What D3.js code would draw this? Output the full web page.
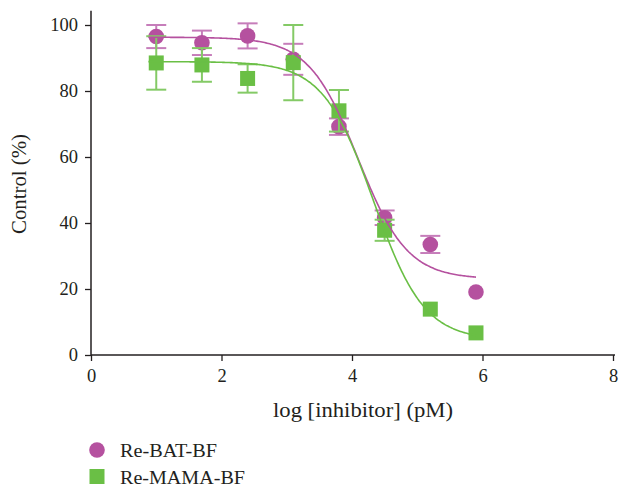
<!DOCTYPE html>
<html>
<head>
<meta charset="utf-8">
<script src="https://cdn.jsdelivr.net/npm/d3@7"></script>
<style>
  html, body { margin: 0; padding: 0; background: #fff; }
  svg { display: block; }
  text { font-family: "Liberation Serif", "Times New Roman", serif; fill: #231f20; }
</style>
</head>
<body>
<svg id="chart" width="619" height="487"></svg>
<script>
// ---- data ----
const logConc = [1.0, 1.7, 2.4, 3.1, 3.8, 4.5, 5.2, 5.9];
const batMean = [96.5, 94.6, 96.7, 89.6, 69.2, 41.6, 33.5, 19.1];
const batErr  = [3.5, 3.7, 3.8, 4.7, 2.5, 2.2, 2.6, 0];
const mamaMean = [88.5, 87.9, 83.8, 88.6, 74.0, 37.8, 13.9, 6.7];
const mamaErr  = [8.1, 5.1, 4.3, 11.4, 6.3, 3.2, 0, 0];
// four-parameter logistic fits: [top, bottom, logIC50, hill]
const batFit  = [96.3, 23.0, 4.09, 1.15];
const mamaFit = [88.9, 4.5, 4.33, 1.12];
const fitRange = [0.88, 5.9];
const xTicks = [0, 2, 4, 6, 8];
const yTicks = [0, 20, 40, 60, 80, 100];
const seriesNames = ["Re-BAT-BF", "Re-MAMA-BF"];

const purple = "#b5519f", purpleLight = "#c67dba";
const green = "#6abf45", greenLight = "#84ca66";

const svg = d3.select("#chart");
const x = d3.scaleLinear().domain([0, 8]).range([91, 613]);
const y = d3.scaleLinear().domain([0, 100]).range([355, 25]);

// axes
const axisColor = "#231f20";
const gx = svg.append("g").attr("transform", `translate(0,${y(0)})`)
  .call(d3.axisBottom(x).tickValues(xTicks).tickSize(6).tickPadding(8).tickFormat(d3.format("d")));
const gy = svg.append("g").attr("transform", `translate(${x(0)},0)`)
  .call(d3.axisLeft(y).tickValues(yTicks).tickSize(6).tickPadding(7).tickFormat(d3.format("d")));
[gx, gy].forEach(g => {
  g.select(".domain").remove();
  g.selectAll(".tick line").attr("stroke", axisColor).attr("stroke-width", 1.3);
  g.selectAll(".tick text").style("font-family", "Liberation Serif, serif").style("font-size", "18.5px").attr("fill", axisColor);
});
svg.append("line").attr("x1", x(0)).attr("x2", x(8) + 2).attr("y1", y(0)).attr("y2", y(0))
  .attr("stroke", axisColor).attr("stroke-width", 1.5);
svg.append("line").attr("x1", x(0)).attr("x2", x(0)).attr("y1", y(0)).attr("y2", y(104.3))
  .attr("stroke", axisColor).attr("stroke-width", 1.5);

// axis titles
svg.append("text").attr("x", 363).attr("y", 417).attr("text-anchor", "middle")
  .attr("textLength", 180).attr("lengthAdjust", "spacingAndGlyphs")
  .style("font-size", "20.5px").text("log [inhibitor] (pM)");
svg.append("text").attr("transform", `translate(26,${184}) rotate(-90)`).attr("text-anchor", "middle")
  .attr("textLength", 100).attr("lengthAdjust", "spacingAndGlyphs")
  .style("font-size", "20.5px").text("Control (%)");

function logistic(p, xv) {
  const [top, bottom, c, h] = p;
  return bottom + (top - bottom) / (1 + Math.pow(10, (xv - c) * h));
}
const fitX = d3.range(fitRange[0], fitRange[1] + 1e-9, 0.02);
const line = d3.line().x(d => x(d[0])).y(d => y(d[1])).curve(d3.curveBasis);

function errorBars(means, errs, color) {
  const g = svg.append("g").attr("stroke", color).attr("stroke-width", 2).attr("fill", "none");
  logConc.forEach((xv, i) => {
    if (!errs[i]) return;
    const cx = x(xv), y1 = y(means[i] + errs[i]), y2 = y(means[i] - errs[i]);
    g.append("line").attr("x1", cx).attr("x2", cx).attr("y1", y1).attr("y2", y2);
    g.append("line").attr("x1", cx - 10).attr("x2", cx + 10).attr("y1", y1).attr("y2", y1);
    g.append("line").attr("x1", cx - 10).attr("x2", cx + 10).attr("y1", y2).attr("y2", y2);
  });
}

// BAT series
errorBars(batMean, batErr, purpleLight);
svg.append("g").selectAll("circle").data(logConc).join("circle")
  .attr("cx", d => x(d)).attr("cy", (d, i) => y(batMean[i])).attr("r", 7.8).attr("fill", purple);

// MAMA series
errorBars(mamaMean, mamaErr, greenLight);
svg.append("g").selectAll("rect").data(logConc).join("rect")
  .attr("x", d => x(d) - 7.5).attr("y", (d, i) => y(mamaMean[i]) - 7.5)
  .attr("width", 15).attr("height", 15).attr("fill", green);

// fitted curves
svg.append("path").datum(fitX.map(v => [v, logistic(batFit, v)])).attr("d", line)
  .attr("fill", "none").attr("stroke", purple).attr("stroke-width", 1.6);
svg.append("path").datum(fitX.map(v => [v, logistic(mamaFit, v)])).attr("d", line)
  .attr("fill", "none").attr("stroke", green).attr("stroke-width", 1.6);

// legend
const leg = svg.append("g");
leg.append("circle").attr("cx", 97).attr("cy", 450).attr("r", 7.8).attr("fill", purple);
leg.append("rect").attr("x", 89.5).attr("y", 469).attr("width", 15).attr("height", 15).attr("fill", green);
leg.append("text").attr("x", 120).attr("y", 457).attr("textLength", 97).attr("lengthAdjust", "spacingAndGlyphs")
  .style("font-size", "19.5px").text(seriesNames[0]);
leg.append("text").attr("x", 120).attr("y", 484).attr("textLength", 125).attr("lengthAdjust", "spacingAndGlyphs")
  .style("font-size", "19.5px").text(seriesNames[1]);
</script>
</body>
</html>
